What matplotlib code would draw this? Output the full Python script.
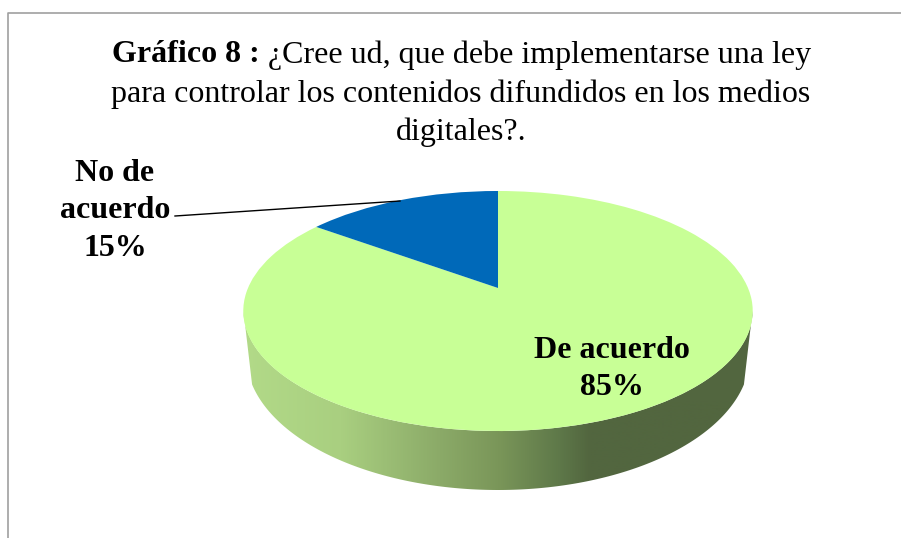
#grafico a torta 3D: legge sui contenuti nei medi digitali
import numpy as np
import matplotlib
matplotlib.use("Agg")
import matplotlib.pyplot as plt
from matplotlib.colors import LinearSegmentedColormap
from matplotlib.patches import Polygon
from matplotlib.transforms import Transform

plt.rcParams['font.family'] = ['Liberation Serif', 'DejaVu Serif']

categorias = ['De acuerdo', 'No de\nacuerdo']
valores = [85, 15]
colores = ['#C8FF96', '#0069B9']

titulo_negrita = 'Gráfico 8 :'
titulo_1 = '¿Cree ud, que debe implementarse una ley'
titulo_2 = 'para controlar los contenidos difundidos en los medios'
titulo_3 = 'digitales?.'

#parametri della prospettiva (pixel)
cx = 498
cy = 288
cu = 250
a = -60.4
k = 0.1917


class Perspectiva(Transform):
    input_dims = 2
    output_dims = 2
    is_affine = False

    def transform_non_affine(self, values):
        values = np.asarray(values, dtype=float)
        u = values[:, 0]
        v = values[:, 1]
        d = 1 + k * v
        return np.column_stack((cx + cu * u / d, (a * v + cy) / d))


fig = plt.figure(figsize=(9.01, 5.38), dpi=100)
ax = fig.add_axes([0, 0, 1, 1])

#pared lateral con gradiente
t = np.linspace(0, np.pi, 200)
t_inf = np.linspace(0.22, np.pi - 0.22, 200)
x_sup = 498 + 254.5 * np.cos(t[::-1])
y_sup = 311 + 120 * np.sin(t[::-1])
x_inf = 498 + 252 * np.cos(t_inf)
y_inf = 355 + 135 * np.sin(t_inf)
pared = np.column_stack((np.r_[x_sup, x_inf], np.r_[y_sup, y_inf]))

cmap = LinearSegmentedColormap.from_list('pared', [
    (0.0, '#B2DA88'), (0.19, '#A9CF80'), (0.385, '#8BAA68'), (0.5, '#7A9659'),
    (0.62, '#5E7849'), (0.68, '#52663F'), (1.0, '#52663F')])
grad = np.linspace(0, 1, 512).reshape(1, -1)
img = ax.imshow(grad, extent=(243, 754, 500, 300), cmap=cmap, aspect='auto', zorder=1)
clip = Polygon(pared, closed=True, transform=ax.transData, facecolor='none', edgecolor='none')
ax.add_patch(clip)
img.set_clip_path(clip)

#torta superiore
wedges, _ = ax.pie(valores, colors=colores, startangle=90, counterclock=False, radius=1)
tr = Perspectiva() + ax.transData
for w in wedges:
    w.set_transform(tr)
    w.set_zorder(2)
ax.set_aspect('auto')
ax.set_xlim(0, 901)
ax.set_ylim(538, 0)
ax.axis('off')

#bordo del grafico
ax.plot([8, 8, 901], [538, 13, 13], color='#A0A0A0', lw=1.2, zorder=3, clip_on=False)

#titolo
fs_t = 23
tn = ax.text(0, 55, titulo_negrita, fontsize=fs_t, fontweight='bold', ha='left', va='center', zorder=4)
t1 = ax.text(0, 55, titulo_1, fontsize=fs_t, ha='left', va='center', zorder=4)
fig.canvas.draw()
r = fig.canvas.get_renderer()
wn = tn.get_window_extent(r).width + 8
w1 = t1.get_window_extent(r).width
x0 = 461.5 - (wn + w1) / 2
tn.set_x(x0)
t1.set_x(x0 + wn)
ax.text(461, 94, titulo_2, fontsize=fs_t, ha='center', va='center', zorder=4)
ax.text(461, 132, titulo_3, fontsize=fs_t, ha='center', va='center', zorder=4)

#etichette
ax.text(612, 369, categorias[0] + '\n' + str(valores[0]) + '%', fontsize=23, fontweight='bold',
        ha='center', va='center', linespacing=1.37, zorder=4)
ax.text(115, 211, categorias[1] + '\n' + str(valores[1]) + '%', fontsize=23, fontweight='bold',
        ha='center', va='center', linespacing=1.37, zorder=4)
ax.plot([175, 400], [216, 201], color='black', lw=1, zorder=4)

fig.savefig('out.png', dpi=100)
